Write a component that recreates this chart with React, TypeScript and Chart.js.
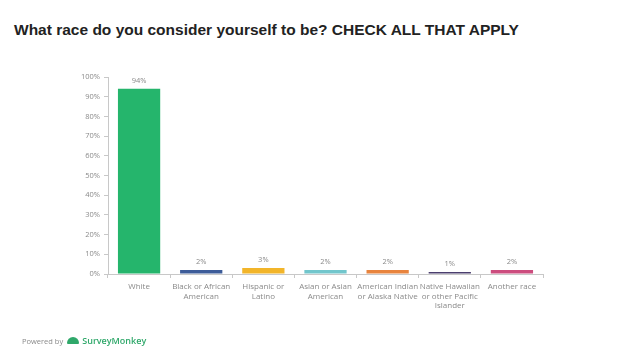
import React, { useEffect, useRef } from "react";
import { Chart, registerables } from "chart.js";

Chart.register(...registerables);

const categories: string[][] = [
  ["White"],
  ["Black or African", "American"],
  ["Hispanic or", "Latino"],
  ["Asian or Asian", "American"],
  ["American Indian", "or Alaska Native"],
  ["Native Hawaiian", "or other Pacific", "Islander"],
  ["Another race"],
];
const values: number[] = [94, 2, 3, 2, 2, 1, 2];
const barColors: string[] = ["#25b56c", "#3d5c99", "#f2b52a", "#72c6cc", "#e8843e", "#4b3f6e", "#cc4d7e"];
const yTicks: number[] = [0, 10, 20, 30, 40, 50, 60, 70, 80, 90, 100];

const FONT = "'Open Sans', 'Liberation Sans', sans-serif";

const valueLabels = {
  id: "valueLabels",
  afterDatasetsDraw(chart: any) {
    const ctx = chart.ctx;
    const meta = chart.getDatasetMeta(0);
    ctx.save();
    ctx.font = `7.5px ${FONT}`;
    ctx.fillStyle = "#8a8a8a";
    ctx.textAlign = "center";
    ctx.textBaseline = "bottom";
    meta.data.forEach((bar: any, i: number) => {
      ctx.fillText(values[i] + "%", bar.x, bar.y - 4);
    });
    ctx.restore();
  },
};

export default function App() {
  const ref = useRef<HTMLCanvasElement>(null);
  useEffect(() => {
    if (!ref.current) return;
    const chart = new Chart(ref.current, {
      type: "bar",
      data: {
        labels: categories,
        datasets: [
          {
            data: values,
            backgroundColor: barColors,
            barPercentage: 0.68,
            categoryPercentage: 1,
          },
        ],
      },
      options: {
        animation: false,
        responsive: false,
        maintainAspectRatio: false,
        layout: { padding: { left: 0, right: 83, top: 77, bottom: 0 } },
        plugins: { legend: { display: false }, tooltip: { enabled: false }, title: { display: false } },
        scales: {
          x: {
            afterFit: (s: any) => {
              s.height = 77;
            },
            grid: { drawOnChartArea: false, tickLength: 4, color: "#c8c8c8", offset: true },
            border: { color: "#c8c8c8" },
            ticks: { font: { size: 8, family: FONT }, color: "#8a8a8a", maxRotation: 0, autoSkip: false, padding: 4 },
          },
          y: {
            min: 0,
            max: 100,
            afterFit: (s: any) => {
              s.width = 108;
            },
            afterBuildTicks: (s: any) => {
              s.ticks = yTicks.map((v) => ({ value: v }));
            },
            grid: { drawOnChartArea: false, tickLength: 4, color: "#c8c8c8" },
            border: { color: "#c8c8c8" },
            ticks: {
              font: { size: 7.5, family: FONT },
              color: "#8a8a8a",
              padding: 4,
              callback: (v: any) => v + "%",
            },
          },
        },
      },
      plugins: [valueLabels],
    });
    return () => chart.destroy();
  }, []);

  return (
    <div style={{ position: "fixed", left: 0, top: 0, width: 626, height: 351, background: "#fff", overflow: "hidden" }}>
      <div
        style={{
          position: "absolute",
          left: 14,
          top: 21,
          fontFamily: "'Liberation Sans', Arial, sans-serif",
          fontWeight: "bold",
          fontSize: 15.5,
          color: "#222",
          whiteSpace: "nowrap",
        }}
      >
        What race do you consider yourself to be? CHECK ALL THAT APPLY
      </div>
      <canvas ref={ref} width={626} height={351} style={{ position: "absolute", left: 0, top: 0 }} />
      <div
        style={{
          position: "absolute",
          left: 22,
          top: 334,
          display: "flex",
          alignItems: "center",
          fontFamily: FONT,
          whiteSpace: "nowrap",
        }}
      >
        <span style={{ fontSize: 7.5, color: "#8a8a8a" }}>Powered by</span>
        <span
          style={{
            display: "inline-block",
            width: 12,
            height: 7,
            marginLeft: 4,
            marginRight: 3,
            background: "#2fa86a",
            borderRadius: "6px 6px 1px 1px",
          }}
        />
        <span style={{ fontSize: 9, color: "#2fa86a", fontWeight: 600 }}>SurveyMonkey</span>
      </div>
    </div>
  );
}
